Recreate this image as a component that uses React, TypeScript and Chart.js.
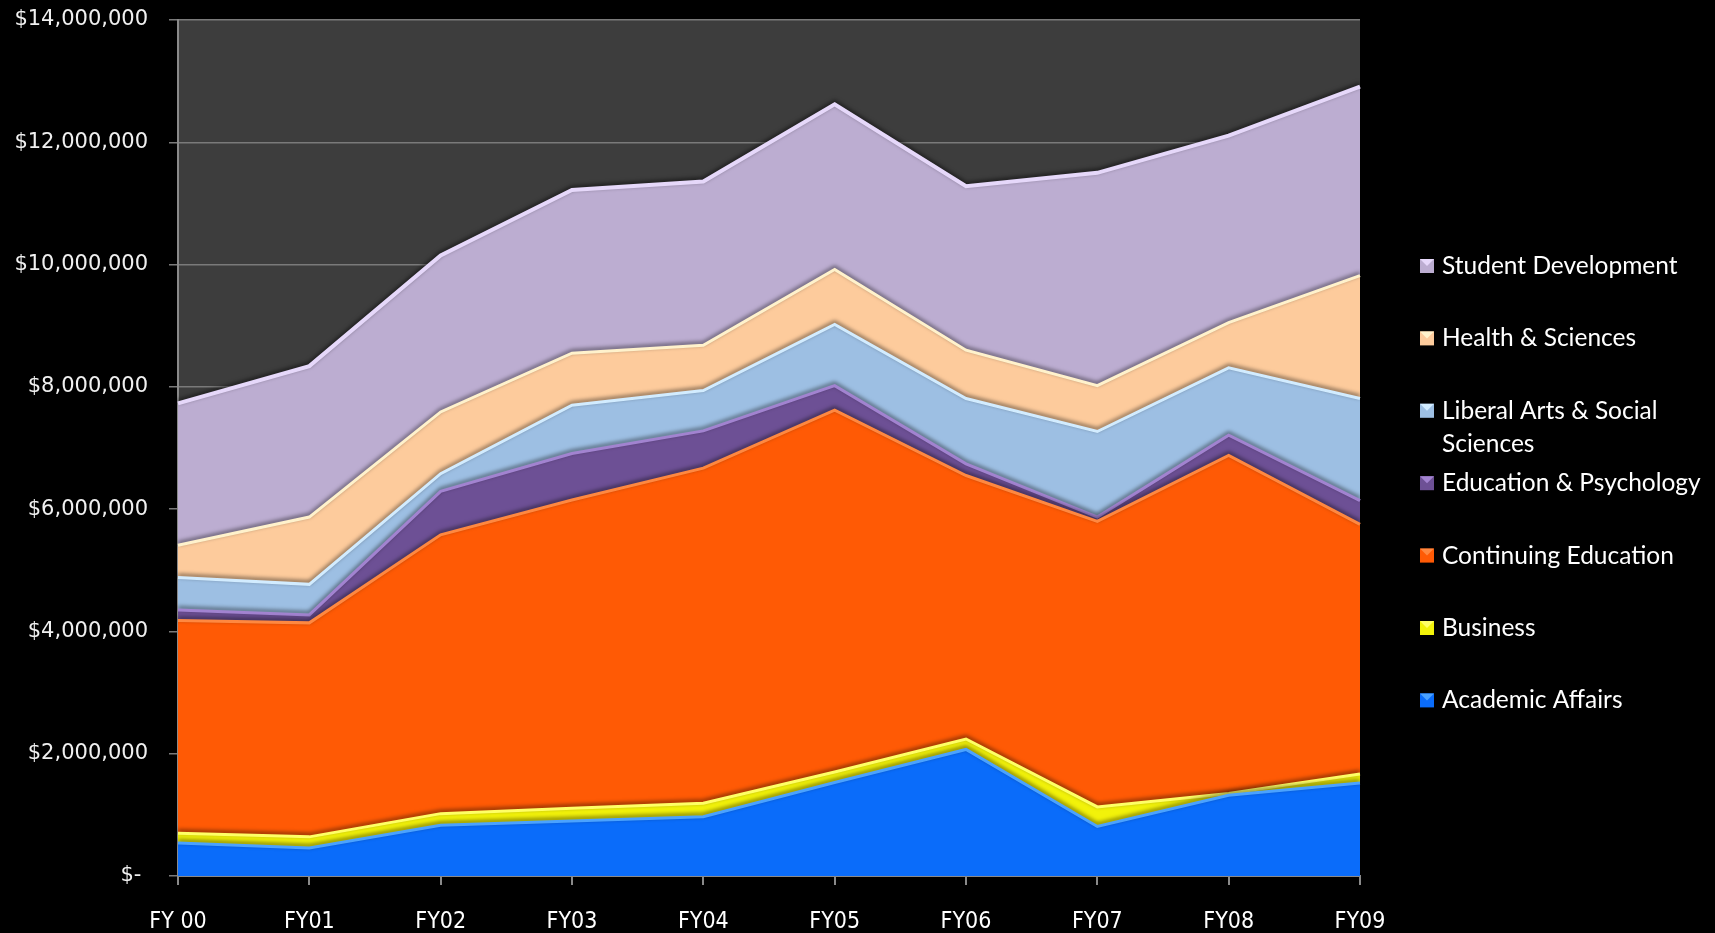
import React, { useEffect, useRef } from 'react';
import { Chart, registerables } from 'chart.js';

Chart.register(...registerables);

// ---- Data (US$) ----
const categories = ['FY 00', 'FY01', 'FY02', 'FY03', 'FY04', 'FY05', 'FY06', 'FY07', 'FY08', 'FY09'];

const academicAffairs = [540000, 460000, 830000, 900000, 970000, 1530000, 2070000, 810000, 1320000, 1520000];
const business = [160000, 180000, 190000, 210000, 220000, 170000, 170000, 320000, 30000, 150000];
const continuingEducation = [3480000, 3500000, 4560000, 5040000, 5480000, 5920000, 4310000, 4670000, 5530000, 4080000];
const educationPsychology = [170000, 130000, 710000, 760000, 610000, 400000, 190000, 70000, 330000, 390000];
const liberalArts = [530000, 500000, 290000, 790000, 660000, 1000000, 1070000, 1400000, 1100000, 1670000];
const healthSciences = [530000, 1100000, 1010000, 850000, 740000, 900000, 790000, 750000, 740000, 2010000];
const studentDevelopment = [2320000, 2470000, 2560000, 2670000, 2680000, 2700000, 2680000, 3480000, 3060000, 3090000];

const seriesNames = [
  'Academic Affairs',
  'Business',
  'Continuing Education',
  'Education & Psychology',
  'Liberal Arts & Social Sciences',
  'Health & Sciences',
  'Student Development',
];
const seriesValues = [
  academicAffairs,
  business,
  continuingEducation,
  educationPsychology,
  liberalArts,
  healthSciences,
  studentDevelopment,
];
const legendLines: string[][] = [
  ['Academic Affairs'],
  ['Business'],
  ['Continuing Education'],
  ['Education & Psychology'],
  ['Liberal Arts & Social', 'Sciences'],
  ['Health & Sciences'],
  ['Student Development'],
];

const yTickStep = 2000000;
const yMax = 14000000;

// ---- Styles ----
const fillColors = ['#0a6cfa', '#f2f20a', '#ff5a05', '#6d5095', '#9dbfe3', '#fdcb9c', '#bcadd1'];
const edgeColors = ['#4aa2ff', '#ffff66', '#ff8840', '#a283d0', '#d2ecff', '#fff2cc', '#e6d8fa'];

const plotBg = {
  id: 'plotBg',
  beforeDraw(chart: any) {
    const { ctx, chartArea } = chart;
    ctx.save();
    ctx.fillStyle = '#3d3d3d';
    ctx.fillRect(chartArea.left, chartArea.top, chartArea.right - chartArea.left, chartArea.bottom - chartArea.top);
    ctx.restore();
  },
};

const bevel = {
  id: 'bevel',
  beforeDatasetDraw(chart: any) {
    const ctx = chart.ctx;
    ctx.save();
    ctx.shadowColor = 'rgba(0,0,0,0.6)';
    ctx.shadowBlur = 4;
    ctx.shadowOffsetY = -2;
  },
  afterDatasetDraw(chart: any) {
    chart.ctx.restore();
  },
};

const customLegend = {
  id: 'customLegend',
  afterDraw(chart: any) {
    const ctx = chart.ctx;
    ctx.save();
    ctx.font = '24.5px Lato, "Open Sans", sans-serif';
    ctx.textBaseline = 'middle';
    ctx.textAlign = 'left';
    const boxX = 1420;
    const boxSize = 14;
    const textX = 1442;
    let y = 266;
    for (let i = seriesNames.length - 1; i >= 0; i--) {
      ctx.fillStyle = fillColors[i];
      ctx.fillRect(boxX, y - boxSize / 2, boxSize, boxSize);
      ctx.fillStyle = edgeColors[i];
      ctx.beginPath();
      ctx.moveTo(boxX, y - boxSize / 2);
      ctx.lineTo(boxX + boxSize, y - boxSize / 2);
      ctx.lineTo(boxX + boxSize / 2, y);
      ctx.closePath();
      ctx.fill();
      ctx.fillStyle = '#ffffff';
      legendLines[i].forEach((line, k) => {
        ctx.fillText(line, textX, y + k * 33);
      });
      y += 72.4;
    }
    ctx.restore();
  },
};

export default function App() {
  const canvasRef = useRef<HTMLCanvasElement | null>(null);

  useEffect(() => {
    document.body.style.margin = '0';
    document.body.style.background = '#000';
    const canvas = canvasRef.current;
    if (!canvas) return;

    const datasets = seriesValues.map((vals, i) => ({
      label: seriesNames[i],
      data: vals,
      backgroundColor: fillColors[i],
      borderColor: edgeColors[i],
      borderWidth: i === seriesValues.length - 1 ? 4 : 3,
      fill: i === 0 ? 'origin' : '-1',
      tension: 0,
      pointRadius: 0,
      pointHoverRadius: 0,
    }));

    const chart = new Chart(canvas, {
      type: 'line',
      data: { labels: categories, datasets },
      options: {
        animation: false,
        responsive: false,
        devicePixelRatio: 1,
        layout: { padding: { top: 20, right: 355, bottom: 0, left: 0 } },
        plugins: {
          legend: { display: false },
          tooltip: { enabled: false },
        },
        scales: {
          x: {
            offset: false,
            grid: {
              drawOnChartArea: false,
              drawTicks: true,
              tickLength: 9,
              color: '#8a8a8a',
              lineWidth: 2,
            },
            border: { color: '#8a8a8a', width: 2 },
            ticks: {
              color: '#ffffff',
              padding: 23,
              maxRotation: 0,
              autoSkip: false,
              font: { family: '"DejaVu Sans Condensed", "Liberation Sans Narrow", sans-serif', size: 23 },
            },
            afterFit(scale: any) {
              scale.height = 57;
              scale.paddingLeft = 0;
              scale.paddingRight = 0;
            },
          },
          y: {
            stacked: true,
            min: 0,
            max: yMax,
            grid: {
              color: '#7a7a7a',
              lineWidth: 1.5,
              tickLength: 9,
            },
            border: { color: '#8a8a8a', width: 2 },
            ticks: {
              stepSize: yTickStep,
              color: '#f0f0f0',
              padding: 21,
              font: { family: '"DejaVu Sans", sans-serif', size: 21 },
              callback: (v: any) => (Number(v) === 0 ? '$- ' : '$' + Number(v).toLocaleString('en-US')),
            },
            afterFit(scale: any) {
              scale.width = 178;
              scale.paddingTop = 0;
              scale.paddingBottom = 0;
            },
          },
        },
      },
      plugins: [plotBg, bevel, customLegend],
    } as any);

    return () => chart.destroy();
  }, []);

  return (
    <div style={{ width: 1715, height: 933, background: '#000' }}>
      <canvas ref={canvasRef} width={1715} height={933} />
    </div>
  );
}
